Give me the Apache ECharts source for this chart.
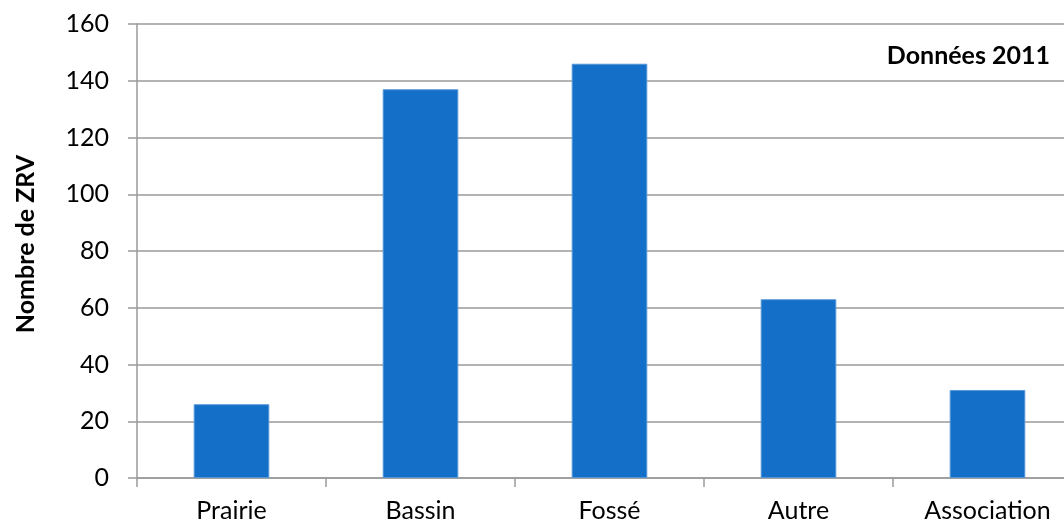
<!DOCTYPE html>
<html>
<head>
<meta charset="utf-8">
<script src="https://cdn.jsdelivr.net/npm/echarts@6/dist/echarts.min.js"></script>
<style>
  html, body { margin: 0; padding: 0; background: #fff; }
  #chart { width: 1064px; height: 525px; }
</style>
</head>
<body>
<div id="chart"></div>
<script>
// Nombre de ZRV par type (données 2011)
const categories = ['Prairie', 'Bassin', 'Fossé', 'Autre', 'Association'];
const counts = [26, 137, 146, 63, 31];
const yTicks = [0, 20, 40, 60, 80, 100, 120, 140, 160];

const gridColor = '#9a9a9a';
const fontFamily = 'Lato, "Open Sans", sans-serif';

const chart = echarts.init(document.getElementById('chart'));
chart.setOption({
  animation: false,
  backgroundColor: '#fff',
  title: {
    text: 'Données 2011',
    right: 9,
    top: 38,
    textStyle: { fontFamily, fontSize: 25, fontWeight: 'bold', color: '#000' }
  },
  // the last category runs past the right edge of the canvas
  grid: { left: 137, top: 24, bottom: 47, width: 945, containLabel: false, outerBoundsMode: 'none' },
  xAxis: {
    type: 'category',
    data: categories,
    boundaryGap: true,
    axisLine: { show: true, lineStyle: { color: gridColor, width: 1.5 } },
    axisTick: { show: true, length: 9, alignWithLabel: false, lineStyle: { color: gridColor, width: 1.5 } },
    axisLabel: { margin: 20, color: '#000', fontFamily, fontSize: 25 }
  },
  yAxis: {
    type: 'value',
    min: yTicks[0],
    max: yTicks[yTicks.length - 1],
    interval: yTicks[1] - yTicks[0],
    name: 'Nombre de ZRV',
    nameLocation: 'middle',
    nameGap: 99,
    nameRotate: 90,
    // left padding nudges the rotated title slightly upwards
    nameTextStyle: { fontFamily, fontSize: 25, fontWeight: 'bold', color: '#000', padding: [0, 0, 0, 14] },
    axisLine: { show: true, lineStyle: { color: gridColor, width: 1.5 } },
    axisTick: { show: true, length: 9, lineStyle: { color: gridColor, width: 1.5 } },
    axisLabel: { margin: 28, color: '#000', fontFamily, fontSize: 25 },
    splitLine: { show: true, lineStyle: { color: gridColor, width: 1.5 } }
  },
  series: [{
    type: 'bar',
    data: counts,
    barWidth: '40%',
    itemStyle: { color: '#136FC7', borderColor: '#5797d6', borderWidth: 1 }
  }]
});
</script>
</body>
</html>
